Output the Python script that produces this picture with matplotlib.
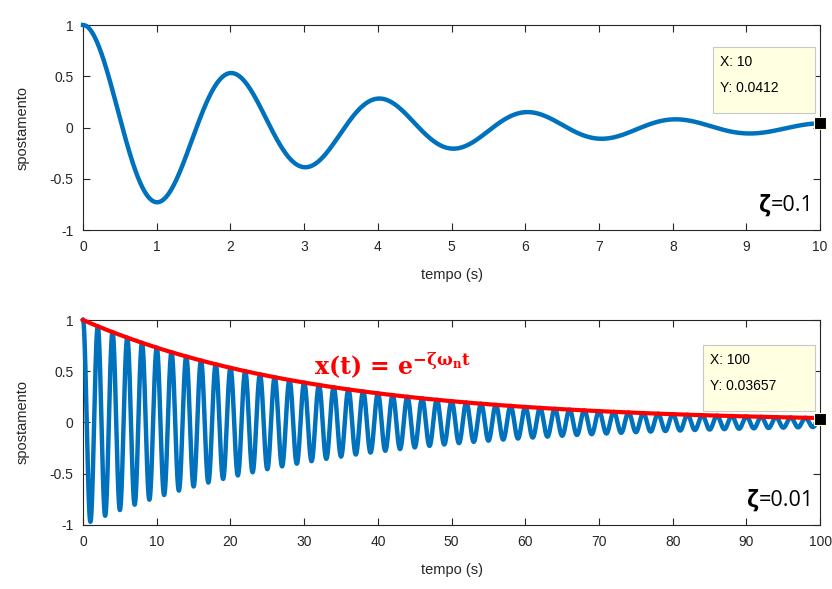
import numpy as np
import matplotlib
matplotlib.use("Agg")
import matplotlib.pyplot as plt
from matplotlib.patches import Rectangle

# values
zeta_values = [0.1, 0.01]          # damping ratios written on the panels
omega_n = np.pi                    # period of ~2 s
t_end = [10, 100]
x_ticks = [list(range(0, 11)), list(range(0, 101, 10))]
y_ticks = [-1, -0.5, 0, 0.5, 1]
y_ticklabels = ["-1", "-0.5", "0", "0.5", "1"]
tip_x = [10, 100]
tip_y = [0.0412, 0.03657]
tip_text = [["X: 10", "Y: 0.0412"], ["X: 100", "Y: 0.03657"]]

plt.rcParams['font.family'] = ['Liberation Sans', 'DejaVu Sans']
plt.rcParams['mathtext.fontset'] = 'dejavuserif'

blue = '#0072BD'
gray = '#262626'

fig = plt.figure(figsize=(8.32, 5.89), dpi=100)
axes = [fig.add_axes([0.0998, 0.6095, 0.886, 0.348]),
        fig.add_axes([0.0998, 0.1087, 0.886, 0.348])]

# datatip box corners in axes fraction (left, bottom, right, top)
boxes = [(0.855, 0.571, 0.993, 0.893), (0.841, 0.556, 0.993, 0.878)]

for i, ax in enumerate(axes):
    zeta = zeta_values[i]
    # free response of the damped oscillator, x(0)=1, v(0)=0
    t = np.linspace(0, t_end[i], 4000)
    wd = omega_n * np.sqrt(1 - zeta**2)
    x = np.exp(-zeta * omega_n * t) * (np.cos(wd * t) + zeta * omega_n / wd * np.sin(wd * t))
    ax.plot(t, x, color=blue, lw=3.2, clip_on=False, zorder=3)

    if i == 1:
        env = np.exp(-zeta * omega_n * t)
        ax.plot(t, env, color='#FF0000', lw=3, clip_on=False, zorder=4)
        ax.text(0.42, 0.78, r'$\mathbf{x(t)\,=\,e^{-\zeta\omega_n t}}$', color='#FF0000',
                fontsize=17, ha='center', va='center', transform=ax.transAxes)

    ax.plot(tip_x[i], tip_y[i], 's', color='black', ms=9, mec='#FFFFE1', mew=0.8,
            clip_on=False, zorder=6)

    ax.set_xlim(0, t_end[i])
    ax.set_ylim(-1, 1)
    ax.set_xticks(x_ticks[i])
    ax.set_yticks(y_ticks)
    ax.set_yticklabels(y_ticklabels)
    ax.tick_params(direction='in', top=True, right=True, length=5, width=0.8,
                   colors=gray, labelsize=10, pad=7)
    for sp in ax.spines.values():
        sp.set_color(gray)
        sp.set_linewidth(0.8)
    ax.set_xlabel('tempo (s)', fontsize=10.5, color=gray, labelpad=10)
    ax.set_ylabel('spostamento', fontsize=10.5, color=gray, labelpad=14)

    # datatip box
    l, b, r, tp = boxes[i]
    ax.add_patch(Rectangle((l, b), r - l, tp - b, transform=ax.transAxes,
                           fc='#FFFFE1', ec='#C8C8C8', lw=0.8, zorder=7, clip_on=False))
    h = tp - b
    ax.text(l + 0.009, tp - 0.23 * h, tip_text[i][0], transform=ax.transAxes,
            fontsize=10, color='black', va='center', ha='left', zorder=8)
    ax.text(l + 0.009, tp - 0.62 * h, tip_text[i][1], transform=ax.transAxes,
            fontsize=10, color='black', va='center', ha='left', zorder=8)

    # damping label: bold zeta then regular value
    val = ax.text(0.991, 0.12, '=' + str(zeta), transform=ax.transAxes,
                  fontsize=15.5, ha='right', va='center', color='black',
                  family=['Open Sans', 'DejaVu Sans'])
    ax.annotate('ζ', xy=(0, 0.5), xycoords=val, ha='right', va='center',
                fontsize=16.5, fontweight='bold', color='black',
                family=['Open Sans', 'DejaVu Sans'])

fig.savefig('out.png', dpi=100)
